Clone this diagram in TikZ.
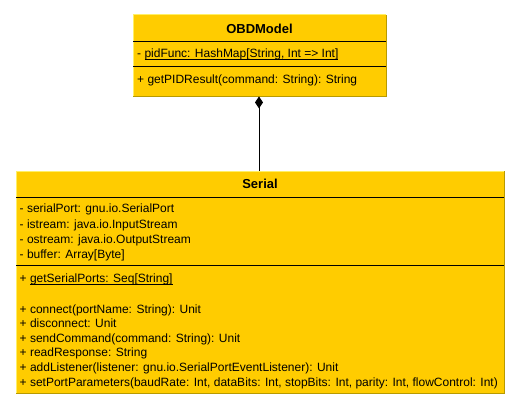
\documentclass[tikz,border=0pt]{standalone}
\usepackage{fontspec}
\setmainfont{Liberation Sans}
\usetikzlibrary{arrows.meta}
\definecolor{umlfill}{HTML}{FFCC00}
\definecolor{umllight}{HTML}{FFF066}
\definecolor{umldark}{HTML}{B89A00}
\tikzset{
  umlbox/.style={fill=umlfill, draw=none, inner sep=0pt, anchor=north west},
  lightedge/.style={draw=umllight, line width=1pt},
  darkedge/.style={draw=umldark, line width=1pt},
  sepline/.style={draw=black, line width=1pt},
  member/.style={inner sep=0pt, anchor=base west, font=\fontsize{12}{14}\selectfont},
  umltitle/.style={inner sep=0pt, anchor=base, font=\fontsize{13}{15}\selectfont\bfseries},
  composition/.style={{Diamond[length=12pt,width=8pt]}-, line width=1pt, draw=black}
}
\newcommand{\staticul}[1]{\underline{\smash{#1}}}
\begin{document}
\begin{tikzpicture}[x=1pt,y=-1pt]
\useasboundingbox[fill=white] (0,0) rectangle (519,409);

% OBDModel class
\node[umlbox, minimum width=253pt, minimum height=81pt] (obd) at (133,15) {};
\draw[lightedge] (obd.south west) -- (obd.north west) -- (obd.north east);
\draw[darkedge] (obd.north east) -- (obd.south east) -- (obd.south west);
\draw[sepline] (obd.west |- 0,42) -- (obd.east |- 0,42);
\draw[sepline] (obd.west |- 0,67) -- (obd.east |- 0,67);
\node[umltitle] (obdtitle) at (259.5,33.5) {OBDModel};
\node[member] (obdattr) at (137,57.5) {- \staticul{pidFunc: HashMap[String, Int => Int]}};
\node[member] (obdop) at (137,83.5) {+ getPIDResult(command: String): String};

% Serial class
\node[umlbox, minimum width=488pt, minimum height=222pt] (serial) at (16,171) {};
\draw[lightedge] (serial.south west) -- (serial.north west) -- (serial.north east);
\draw[darkedge] (serial.north east) -- (serial.south east) -- (serial.south west);
\draw[sepline] (serial.west |- 0,197) -- (serial.east |- 0,197);
\draw[sepline] (serial.west |- 0,265) -- (serial.east |- 0,265);
\node[umltitle] (serialtitle) at (260,188.5) {Serial};
\node[member] (a1) at (19.5,212.5) {- serialPort: gnu.io.SerialPort};
\node[member] (a2) at (19.5,228) {- istream: java.io.InputStream};
\node[member] (a3) at (19.5,243.5) {- ostream: java.io.OutputStream};
\node[member] (a4) at (19.5,258.5) {- buffer: Array[Byte]};
\node[member] (m0) at (19.5,282.5) {+ \staticul{getSerialPorts: Seq[String]}};
\node[member] (m1) at (19.5,313) {+ connect(portName: String): Unit};
\node[member] (m2) at (19.5,327.5) {+ disconnect: Unit};
\node[member] (m3) at (19.5,342.2) {+ sendCommand(command: String): Unit};
\node[member] (m4) at (19.5,356.9) {+ readResponse: String};
\node[member] (m5) at (19.5,371.6) {+ addListener(listener: gnu.io.SerialPortEventListener): Unit};
\node[member] (m6) at (19.5,386.3) {+ setPortParameters(baudRate: Int, dataBits: Int, stopBits: Int, parity: Int, flowControl: Int)};

% composition
\draw[composition] (obd.south -| 259,0) -- (serial.north -| 259,0);
\end{tikzpicture}
\end{document}
